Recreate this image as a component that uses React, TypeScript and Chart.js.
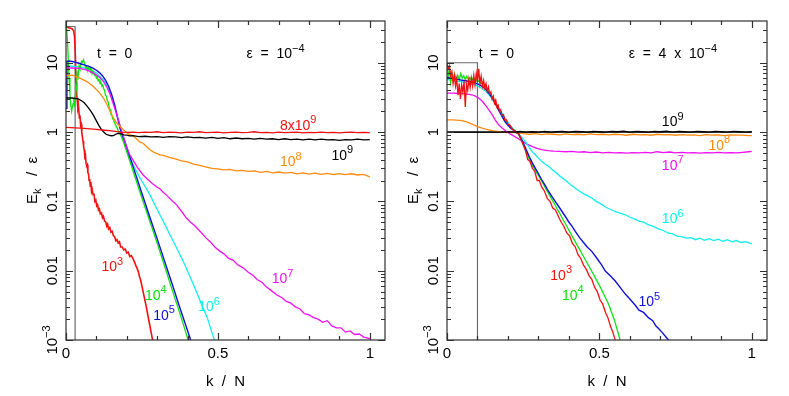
import React, { useEffect, useRef } from "react";
import { Chart, registerables } from "chart.js";

Chart.register(...registerables);

type P = [number, number];

// ---------- axes ----------
const X_MIN = 0;
const X_MAX = 1.05;
const Y_MIN = 0.001;
const Y_MAX = 40;
const X_TICKS = [0, 0.1, 0.2, 0.3, 0.4, 0.5, 0.6, 0.7, 0.8, 0.9, 1.0];
const X_MAJOR = [0, 0.5, 1];
const X_TICK_LABELS = ["0", "0.5", "1"];
const Y_MAJOR = [0.001, 0.01, 0.1, 1, 10];
const Y_TICK_LABELS: [string, string][] = [["10", "\u22123"], ["0.01", ""], ["0.1", ""], ["1", ""], ["10", ""]];
const Y_MINOR = [
  0.002, 0.003, 0.004, 0.005, 0.006, 0.007, 0.008, 0.009,
  0.02, 0.03, 0.04, 0.05, 0.06, 0.07, 0.08, 0.09,
  0.2, 0.3, 0.4, 0.5, 0.6, 0.7, 0.8, 0.9,
  2, 3, 4, 5, 6, 7, 8, 9, 20, 30,
];

// ---------- left panel: eps = 1e-4 ----------
const L_box: P[] = [[0, 33.3], [0.03, 33.3], [0.03, 0.0001]];
const L_t1e3: P[] = [[0,32.5],[0.01,32],[0.02,31],[0.025,29],[0.028,24],[0.031,12],[0.033,5.2],[0.035,3.6],[0.037,2.9],[0.039,2.2],[0.041,2.4],[0.044,1.6],[0.046,1.75],[0.048,1.25],[0.05,1.3],[0.052,0.98],[0.054,0.85],[0.056,0.74],[0.058,0.62],[0.06,0.55],[0.062,0.44],[0.064,0.46],[0.066,0.35],[0.068,0.33],[0.07,0.34],[0.072,0.26],[0.074,0.25],[0.076,0.2],[0.078,0.21],[0.08,0.165],[0.082,0.19],[0.084,0.14],[0.086,0.15],[0.089,0.125],[0.092,0.13],[0.095,0.1],[0.098,0.105],[0.101,0.086],[0.104,0.09],[0.107,0.075],[0.11,0.078],[0.113,0.066],[0.117,0.068],[0.12,0.058],[0.123,0.061],[0.127,0.052],[0.131,0.05],[0.134,0.044],[0.137,0.047],[0.14,0.04],[0.144,0.042],[0.148,0.036],[0.152,0.037],[0.156,0.032],[0.16,0.031],[0.164,0.027],[0.168,0.028],[0.172,0.025],[0.176,0.026],[0.18,0.022],[0.185,0.022],[0.19,0.02],[0.195,0.0205],[0.2,0.018],[0.205,0.0185],[0.21,0.016],[0.215,0.0165],[0.22,0.015],[0.225,0.0135],[0.23,0.0118],[0.234,0.0108],[0.238,0.0097],[0.242,0.0082],[0.246,0.0072],[0.25,0.006],[0.255,0.0047],[0.26,0.0037],[0.265,0.0029],[0.27,0.0022],[0.275,0.0017],[0.28,0.0013],[0.285,0.001],[0.29,0.0008]];
const L_t1e4: P[] = [[0,33],[0.002,30],[0.0044,23],[0.0066,14],[0.01,6],[0.013,3.5],[0.0154,2.5],[0.0186,2.0],[0.021,2.3],[0.024,2.6],[0.026,3.1],[0.028,2.3],[0.03,3.4],[0.032,4.6],[0.035,4.2],[0.037,7.2],[0.04,6.3],[0.043,9.0],[0.046,8.2],[0.049,9.8],[0.052,10.6],[0.055,10.2],[0.058,11.0],[0.061,9.6],[0.064,8.6],[0.067,8.9],[0.07,7.7],[0.073,8.7],[0.076,8.0],[0.079,8.4],[0.082,7.5],[0.085,7.8],[0.088,7.0],[0.091,7.4],[0.094,6.6],[0.097,6.8],[0.1,6.0],[0.103,6.3],[0.106,5.5],[0.109,5.7],[0.112,5.0],[0.115,5.2],[0.118,4.6],[0.121,4.8],[0.124,4.2],[0.127,4.0],[0.13,3.4],[0.133,3.3],[0.136,2.8],[0.139,2.7],[0.142,2.3],[0.145,2.1],[0.148,1.8],[0.151,1.75],[0.154,1.55],[0.157,1.5],[0.16,1.35],[0.164,1.25],[0.168,1.15],[0.172,1.05],[0.178,0.95],[0.19,0.7],[0.2,0.52],[0.225,0.24],[0.25,0.112],[0.275,0.053],[0.3,0.025],[0.325,0.0115],[0.35,0.0052],[0.375,0.0024],[0.4,0.00107],[0.41,0.0008]];
const L_t1e5: P[] = [[0,2.2],[0.003,10.5],[0.01,10.6],[0.02,10.4],[0.03,10.2],[0.04,9.9],[0.05,9.6],[0.06,9.3],[0.07,9.0],[0.08,8.7],[0.09,8.3],[0.1,7.8],[0.11,7.2],[0.12,6.5],[0.13,5.6],[0.14,4.6],[0.15,3.5],[0.16,2.5],[0.17,1.6],[0.18,1.05],[0.19,0.81],[0.2,0.6],[0.225,0.28],[0.25,0.13],[0.275,0.061],[0.3,0.029],[0.325,0.0135],[0.35,0.0063],[0.375,0.0029],[0.4,0.00137],[0.41,0.00101],[0.42,0.00075]];
const L_t1e6: P[] = [[0,8.9],[0.02,8.9],[0.04,8.7],[0.06,8.4],[0.08,7.9],[0.09,7.5],[0.1,7.1],[0.11,6.5],[0.12,5.9],[0.13,5.1],[0.14,4.2],[0.15,3.2],[0.16,2.3],[0.17,1.6],[0.178,1.14],[0.189,0.75],[0.2,0.56],[0.21,0.43],[0.225,0.31],[0.243,0.22],[0.26,0.165],[0.276,0.125],[0.292,0.09],[0.309,0.064],[0.325,0.047],[0.342,0.033],[0.358,0.024],[0.375,0.017],[0.39,0.0125],[0.405,0.0088],[0.42,0.0062],[0.435,0.0043],[0.45,0.003],[0.465,0.0021],[0.48,0.0013],[0.49,0.00095],[0.5,0.0007]];
const L_t1e7: P[] = [[0,8.4],[0.02,8.4],[0.046,8.3],[0.07,7.8],[0.09,7.1],[0.11,6.2],[0.123,5.4],[0.135,4.4],[0.145,3.5],[0.155,2.6],[0.167,1.8],[0.175,1.38],[0.183,1.05],[0.192,0.78],[0.2,0.6],[0.21,0.47],[0.221,0.39],[0.235,0.31],[0.254,0.24],[0.27,0.205],[0.285,0.18],[0.3,0.16],[0.309,0.152],[0.32,0.135],[0.335,0.118],[0.35,0.101],[0.364,0.089],[0.38,0.072],[0.397,0.057],[0.41,0.05],[0.425,0.044],[0.441,0.037],[0.46,0.03],[0.475,0.026],[0.49,0.022],[0.507,0.019],[0.52,0.0175],[0.535,0.015],[0.55,0.0142],[0.565,0.0122],[0.583,0.011],[0.6,0.0095],[0.615,0.0086],[0.63,0.0074],[0.645,0.0068],[0.66,0.0058],[0.675,0.0052],[0.693,0.0045],[0.71,0.0041],[0.725,0.0036],[0.74,0.0034],[0.755,0.003],[0.77,0.0028],[0.785,0.0024],[0.8,0.0023],[0.815,0.0021],[0.83,0.002],[0.845,0.0018],[0.86,0.0019],[0.875,0.0016],[0.89,0.0015],[0.905,0.0015],[0.92,0.0013],[0.935,0.00135],[0.95,0.0012],[0.965,0.00122],[0.98,0.0011],[1.0,0.00105]];
const L_t1e8: P[] = [[0,6.5],[0.02,6.6],[0.046,6.0],[0.07,5.3],[0.09,4.55],[0.11,3.7],[0.123,3.1],[0.135,2.5],[0.145,2.0],[0.156,1.6],[0.167,1.35],[0.178,1.2],[0.189,1.08],[0.2,0.98],[0.21,0.92],[0.221,0.88],[0.232,0.8],[0.243,0.72],[0.254,0.69],[0.265,0.62],[0.276,0.556],[0.29,0.51],[0.309,0.47],[0.32,0.46],[0.34,0.43],[0.36,0.41],[0.38,0.385],[0.4,0.37],[0.42,0.345],[0.44,0.33],[0.46,0.315],[0.48,0.3],[0.5,0.295],[0.52,0.285],[0.54,0.29],[0.56,0.275],[0.58,0.28],[0.6,0.27],[0.62,0.275],[0.64,0.262],[0.66,0.27],[0.68,0.258],[0.7,0.265],[0.72,0.255],[0.74,0.262],[0.76,0.25],[0.78,0.258],[0.8,0.248],[0.82,0.256],[0.84,0.246],[0.86,0.254],[0.88,0.244],[0.9,0.252],[0.92,0.243],[0.94,0.25],[0.96,0.24],[0.98,0.245],[1.0,0.225]];
const L_t1e9: P[] = [[0,3.1],[0.02,3.1],[0.04,3.0],[0.05,2.85],[0.06,2.65],[0.07,2.35],[0.08,2.05],[0.09,1.75],[0.1,1.45],[0.108,1.25],[0.116,1.1],[0.124,1.0],[0.132,0.93],[0.14,0.9],[0.148,0.885],[0.156,0.89],[0.164,0.93],[0.172,0.96],[0.18,0.94],[0.19,0.91],[0.2,0.9],[0.21,0.88],[0.22,0.89],[0.24,0.86],[0.26,0.87],[0.28,0.85],[0.3,0.86],[0.32,0.84],[0.34,0.86],[0.36,0.85],[0.38,0.83],[0.4,0.85],[0.42,0.83],[0.44,0.84],[0.46,0.82],[0.48,0.84],[0.5,0.81],[0.52,0.83],[0.54,0.8],[0.56,0.82],[0.58,0.8],[0.6,0.81],[0.62,0.79],[0.64,0.81],[0.66,0.79],[0.68,0.8],[0.7,0.78],[0.72,0.8],[0.74,0.78],[0.76,0.79],[0.78,0.77],[0.8,0.79],[0.82,0.77],[0.84,0.79],[0.86,0.77],[0.88,0.78],[0.9,0.76],[0.92,0.78],[0.94,0.77],[0.96,0.79],[0.98,0.77],[1.0,0.78]];
const L_t8e9: P[] = [[0,1.17],[0.03,1.15],[0.06,1.13],[0.09,1.1],[0.12,1.07],[0.15,1.04],[0.18,1.0],[0.2,0.99],[0.22,1.0],[0.24,0.98],[0.26,1.0],[0.28,0.99],[0.3,1.01],[0.32,0.98],[0.34,1.0],[0.36,0.99],[0.38,0.97],[0.4,1.0],[0.42,0.99],[0.44,1.01],[0.46,0.98],[0.48,0.99],[0.5,1.0],[0.52,0.97],[0.54,0.99],[0.56,1.0],[0.58,0.98],[0.6,0.99],[0.62,1.01],[0.64,0.98],[0.66,0.99],[0.68,0.97],[0.7,1.0],[0.72,0.98],[0.74,0.99],[0.76,1.0],[0.78,0.97],[0.8,0.99],[0.82,0.98],[0.84,1.0],[0.86,0.98],[0.88,0.99],[0.9,0.97],[0.92,0.99],[0.94,1.0],[0.96,0.98],[0.98,0.99],[1.0,0.98]];

// ---------- right panel: eps = 4e-4 ----------
const R_box: P[] = [[0, 10], [0.1, 10], [0.1, 0.0001]];
const R_unity: P[] = [[0, 1], [1, 1]];
const R_t1e3: P[] = [[0,10],[0.004,8.2],[0.008,9.0],[0.012,6.5],[0.016,7.4],[0.02,5.0],[0.024,6.6],[0.028,4.6],[0.032,5.8],[0.036,3.4],[0.04,5.0],[0.044,3.0],[0.048,4.8],[0.052,3.8],[0.056,5.4],[0.06,2.3],[0.064,4.9],[0.068,4.0],[0.072,5.8],[0.076,4.4],[0.08,6.0],[0.084,4.6],[0.088,6.6],[0.092,4.8],[0.096,7.0],[0.1,5.4],[0.104,8.2],[0.108,5.0],[0.112,6.4],[0.116,4.6],[0.12,5.6],[0.124,4.4],[0.128,5.0],[0.132,3.9],[0.136,4.5],[0.14,3.5],[0.144,3.8],[0.148,3.0],[0.152,3.3],[0.156,2.6],[0.16,2.9],[0.164,2.3],[0.168,2.45],[0.172,2.0],[0.176,2.1],[0.18,1.75],[0.185,1.8],[0.19,1.5],[0.195,1.5],[0.2,1.3],[0.207,1.25],[0.214,1.1],[0.221,1.05],[0.228,0.98],[0.235,0.95],[0.242,0.8],[0.25,0.66],[0.257,0.55],[0.265,0.4],[0.272,0.38],[0.28,0.3],[0.288,0.27],[0.296,0.2],[0.303,0.2],[0.311,0.16],[0.32,0.14],[0.329,0.11],[0.338,0.1],[0.347,0.08],[0.356,0.075],[0.366,0.06],[0.375,0.05],[0.384,0.043],[0.393,0.035],[0.402,0.032],[0.411,0.025],[0.421,0.022],[0.43,0.017],[0.439,0.015],[0.448,0.012],[0.457,0.0105],[0.466,0.0085],[0.475,0.0075],[0.484,0.0058],[0.493,0.005],[0.502,0.0038],[0.511,0.0033],[0.52,0.0025],[0.528,0.0021],[0.536,0.0016],[0.544,0.0013],[0.552,0.001],[0.56,0.0008]];
const R_t1e4: P[] = [[0,10],[0.004,6.5],[0.008,7.6],[0.012,5.2],[0.016,7.0],[0.02,5.6],[0.025,6.9],[0.03,5.8],[0.035,6.6],[0.04,5.6],[0.045,7.0],[0.05,6.0],[0.055,6.5],[0.06,5.7],[0.065,6.4],[0.07,5.7],[0.075,6.1],[0.08,5.5],[0.085,6.0],[0.09,5.4],[0.095,5.7],[0.1,5.3],[0.105,5.5],[0.11,5.0],[0.115,5.1],[0.12,4.6],[0.125,4.6],[0.13,4.1],[0.135,4.0],[0.14,3.6],[0.145,3.4],[0.15,3.0],[0.155,2.9],[0.16,2.5],[0.165,2.4],[0.17,2.1],[0.175,2.0],[0.18,1.75],[0.185,1.65],[0.19,1.48],[0.195,1.4],[0.2,1.3],[0.21,1.17],[0.22,1.07],[0.235,0.95],[0.257,0.55],[0.28,0.33],[0.311,0.195],[0.34,0.115],[0.366,0.072],[0.395,0.042],[0.421,0.026],[0.448,0.016],[0.475,0.0098],[0.503,0.0058],[0.53,0.0033],[0.55,0.0019],[0.568,0.001],[0.575,0.0008]];
const R_t1e5: P[] = [[0,6.2],[0.01,6.0],[0.02,5.9],[0.03,5.8],[0.04,5.7],[0.05,5.6],[0.06,5.5],[0.07,5.4],[0.08,5.3],[0.09,5.15],[0.1,4.95],[0.11,4.7],[0.12,4.4],[0.13,4.0],[0.14,3.5],[0.15,3.0],[0.16,2.5],[0.17,2.05],[0.18,1.7],[0.19,1.42],[0.2,1.25],[0.21,1.13],[0.224,1.02],[0.235,0.93],[0.245,0.78],[0.257,0.6],[0.27,0.44],[0.28,0.36],[0.29,0.3],[0.3,0.25],[0.311,0.205],[0.322,0.17],[0.333,0.14],[0.344,0.118],[0.355,0.1],[0.366,0.085],[0.377,0.072],[0.39,0.059],[0.4,0.05],[0.41,0.044],[0.421,0.037],[0.435,0.03],[0.448,0.0255],[0.46,0.022],[0.475,0.019],[0.49,0.0155],[0.505,0.0125],[0.52,0.0098],[0.535,0.0085],[0.552,0.0071],[0.57,0.0056],[0.585,0.0046],[0.6,0.0039],[0.617,0.0032],[0.63,0.0027],[0.645,0.0025],[0.661,0.0021],[0.675,0.0019],[0.685,0.0016],[0.695,0.00145],[0.705,0.0013],[0.715,0.00115],[0.727,0.001],[0.735,0.0009]];
const R_t1e6: P[] = [[0,5.7],[0.02,5.6],[0.049,5.3],[0.07,5.1],[0.093,4.8],[0.11,4.4],[0.126,3.9],[0.142,3.3],[0.158,2.6],[0.175,2.05],[0.191,1.58],[0.205,1.28],[0.219,1.08],[0.235,0.95],[0.246,0.83],[0.257,0.73],[0.27,0.6],[0.28,0.52],[0.29,0.47],[0.3,0.42],[0.311,0.375],[0.322,0.345],[0.333,0.32],[0.344,0.29],[0.355,0.265],[0.366,0.24],[0.377,0.22],[0.39,0.2],[0.405,0.175],[0.421,0.155],[0.435,0.14],[0.45,0.127],[0.462,0.12],[0.475,0.112],[0.49,0.1],[0.505,0.092],[0.52,0.083],[0.535,0.077],[0.55,0.072],[0.565,0.068],[0.585,0.064],[0.6,0.059],[0.615,0.056],[0.63,0.052],[0.645,0.05],[0.66,0.046],[0.675,0.044],[0.694,0.04],[0.71,0.038],[0.725,0.035],[0.74,0.034],[0.755,0.0315],[0.77,0.031],[0.785,0.0295],[0.8,0.03],[0.815,0.028],[0.83,0.0295],[0.845,0.0275],[0.86,0.029],[0.875,0.0272],[0.89,0.0285],[0.905,0.0265],[0.92,0.028],[0.935,0.026],[0.95,0.0272],[0.965,0.0255],[0.98,0.0262],[1.0,0.0243]];
const R_t1e7: P[] = [[0,3.65],[0.02,3.65],[0.04,3.6],[0.06,3.55],[0.082,3.45],[0.093,3.3],[0.104,3.1],[0.115,2.8],[0.126,2.45],[0.137,2.1],[0.148,1.78],[0.158,1.5],[0.169,1.28],[0.18,1.15],[0.191,1.05],[0.202,0.97],[0.213,0.91],[0.23,0.82],[0.246,0.74],[0.262,0.67],[0.279,0.62],[0.295,0.58],[0.311,0.556],[0.33,0.54],[0.35,0.53],[0.37,0.525],[0.39,0.52],[0.41,0.525],[0.43,0.515],[0.45,0.52],[0.47,0.505],[0.49,0.515],[0.51,0.5],[0.53,0.51],[0.55,0.5],[0.57,0.505],[0.59,0.495],[0.61,0.505],[0.63,0.5],[0.65,0.51],[0.67,0.5],[0.69,0.52],[0.71,0.505],[0.73,0.515],[0.75,0.5],[0.77,0.51],[0.79,0.5],[0.81,0.505],[0.83,0.495],[0.85,0.505],[0.87,0.5],[0.89,0.51],[0.91,0.5],[0.93,0.505],[0.95,0.5],[0.97,0.51],[0.99,0.52],[1.0,0.525]];
const R_t1e8: P[] = [[0,1.5],[0.02,1.5],[0.049,1.46],[0.065,1.4],[0.082,1.3],[0.1,1.2],[0.115,1.14],[0.13,1.09],[0.148,1.045],[0.165,1.02],[0.18,1.0],[0.2,0.99],[0.22,0.98],[0.235,0.97],[0.25,0.95],[0.27,0.93],[0.29,0.95],[0.31,0.92],[0.33,0.94],[0.35,0.93],[0.37,0.91],[0.39,0.94],[0.41,0.92],[0.43,0.93],[0.45,0.91],[0.47,0.94],[0.49,0.92],[0.51,0.93],[0.53,0.91],[0.55,0.93],[0.57,0.92],[0.59,0.9],[0.61,0.93],[0.63,0.91],[0.65,0.92],[0.67,0.9],[0.69,0.93],[0.71,0.91],[0.73,0.92],[0.75,0.9],[0.77,0.92],[0.79,0.9],[0.81,0.91],[0.83,0.89],[0.85,0.92],[0.87,0.9],[0.89,0.91],[0.91,0.89],[0.93,0.91],[0.95,0.9],[0.97,0.9],[0.99,0.89],[1.0,0.89]];
const R_t1e9: P[] = [[0,1.0],[0.05,1.0],[0.1,1.0],[0.15,1.0],[0.2,1.01],[0.22,1.0],[0.24,1.02],[0.26,1.0],[0.28,1.01],[0.3,1.0],[0.32,1.02],[0.34,1.0],[0.36,1.01],[0.38,1.02],[0.4,1.0],[0.42,1.02],[0.44,1.01],[0.46,1.0],[0.48,1.02],[0.5,1.01],[0.52,1.0],[0.54,1.02],[0.56,1.01],[0.58,1.03],[0.6,1.0],[0.62,1.02],[0.64,1.01],[0.66,1.0],[0.68,1.02],[0.7,1.01],[0.72,1.03],[0.74,1.0],[0.76,1.02],[0.78,1.01],[0.8,1.0],[0.82,1.02],[0.84,1.01],[0.86,1.0],[0.88,1.02],[0.9,1.01],[0.92,1.0],[0.94,1.02],[0.96,1.01],[0.98,1.0],[1.0,1.01]];

// ---------- colours ----------
const RED = "#f21010";
const GREEN = "#10e010";
const BLUE = "#1010d8";
const CYAN = "#10eeee";
const MAGENTA = "#f010f0";
const ORANGE = "#ff8a10";
const BLACK = "#000000";
const GRAY = "#6a6a6a";
const FRAME = "#303030";
const FONT = '"Liberation Sans", Arial, Helvetica, sans-serif';

interface Series { data: P[]; color: string; width: number; }
interface Note { x: number; y: number; base: string; sup: string; color: string; }
interface PanelCfg {
  series: Series[];
  notes: Note[];
  pad: { left: number; right: number; top: number; bottom: number };
}

const LEFT: PanelCfg = {
  series: [
    { data: L_t8e9, color: RED, width: 1.3 },
    { data: L_t1e9, color: BLACK, width: 1.3 },
    { data: L_t1e8, color: ORANGE, width: 1.3 },
    { data: L_t1e7, color: MAGENTA, width: 1.3 },
    { data: L_t1e5, color: BLUE, width: 1.4 },
    { data: L_t1e4, color: GREEN, width: 1.3 },
    { data: L_t1e6, color: CYAN, width: 1.3 },
    { data: L_t1e3, color: RED, width: 1.6 },
    { data: L_box, color: GRAY, width: 1.2 },
  ],
  notes: [
    { x: 0.102, y: 11.7, base: "t  =  0", sup: "", color: BLACK },
    { x: 0.594, y: 11.7, base: "\u03b5  =  10", sup: "\u22124", color: BLACK },
    { x: 0.704, y: 1.08, base: "8x10", sup: "9", color: RED },
    { x: 0.874, y: 0.4, base: "10", sup: "9", color: BLACK },
    { x: 0.704, y: 0.32, base: "10", sup: "8", color: ORANGE },
    { x: 0.677, y: 0.00665, base: "10", sup: "7", color: MAGENTA },
    { x: 0.435, y: 0.0026, base: "10", sup: "6", color: CYAN },
    { x: 0.287, y: 0.00196, base: "10", sup: "5", color: BLUE },
    { x: 0.26, y: 0.00382, base: "10", sup: "4", color: GREEN },
    { x: 0.117, y: 0.0098, base: "10", sup: "3", color: RED },
  ],
  pad: { left: 66, right: 10, top: 21, bottom: 56 },
};

const RIGHT: PanelCfg = {
  series: [
    { data: R_unity, color: BLACK, width: 1.3 },
    { data: R_t1e3, color: RED, width: 1.3 },
    { data: R_t1e5, color: BLUE, width: 1.4 },
    { data: R_t1e4, color: GREEN, width: 1.3 },
    { data: R_t1e6, color: CYAN, width: 1.3 },
    { data: R_t1e7, color: MAGENTA, width: 1.3 },
    { data: R_t1e8, color: ORANGE, width: 1.3 },
    { data: R_t1e9, color: BLACK, width: 1.3 },
    { data: R_box, color: GRAY, width: 1.2 },
  ],
  notes: [
    { x: 0.104, y: 11.7, base: "t  =  0", sup: "", color: BLACK },
    { x: 0.596, y: 11.7, base: "\u03b5  =  4  x  10", sup: "\u22124", color: BLACK },
    { x: 0.705, y: 1.21, base: "10", sup: "9", color: BLACK },
    { x: 0.858, y: 0.557, base: "10", sup: "8", color: ORANGE },
    { x: 0.705, y: 0.286, base: "10", sup: "7", color: MAGENTA },
    { x: 0.705, y: 0.0488, base: "10", sup: "6", color: CYAN },
    { x: 0.628, y: 0.00306, base: "10", sup: "5", color: BLUE },
    { x: 0.339, y: 0.0074, base: "10", sup: "3", color: RED },
    { x: 0.377, y: 0.00382, base: "10", sup: "4", color: GREEN },
  ],
  pad: { left: 52, right: 22, top: 21, bottom: 56 },
};

type Seg = { t: string; k?: "sup" | "sub" };

function drawRich(ctx: CanvasRenderingContext2D, x: number, y: number, segs: Seg[], size: number, color: string, align: "left" | "center") {
  const widths: number[] = [];
  let total = 0;
  for (const s of segs) {
    ctx.font = `${s.k ? Math.round(size * 0.76) : size}px ${FONT}`;
    const w = ctx.measureText(s.t).width;
    widths.push(w);
    total += w;
  }
  let cx = align === "center" ? x - total / 2 : x;
  ctx.fillStyle = color;
  ctx.textAlign = "left";
  ctx.textBaseline = "alphabetic";
  segs.forEach((s, i) => {
    ctx.font = `${s.k ? Math.round(size * 0.76) : size}px ${FONT}`;
    const dy = s.k === "sup" ? -size * 0.45 : s.k === "sub" ? size * 0.28 : 0;
    ctx.fillText(s.t, cx, y + dy);
    cx += widths[i];
  });
}

function makeFramePlugin(cfg: PanelCfg) {
  return {
    id: "frame",
    afterDraw(chart: any) {
      const ctx: CanvasRenderingContext2D = chart.ctx;
      const { left, right, top, bottom } = chart.chartArea;
      const xs = chart.scales.x;
      const ys = chart.scales.y;
      ctx.save();
      ctx.strokeStyle = FRAME;
      ctx.lineWidth = 1.2;
      ctx.strokeRect(left, top, right - left, bottom - top);
      ctx.beginPath();
      for (const v of X_TICKS) {
        const px = Math.round(xs.getPixelForValue(v)) + 0.5;
        const len = X_MAJOR.some((m) => Math.abs(m - v) < 1e-9) ? 7 : 4;
        ctx.moveTo(px, bottom);
        ctx.lineTo(px, bottom - len);
        ctx.moveTo(px, top);
        ctx.lineTo(px, top + len);
      }
      for (const v of Y_MAJOR) {
        const py = Math.round(ys.getPixelForValue(v)) + 0.5;
        ctx.moveTo(left, py);
        ctx.lineTo(left + 7, py);
        ctx.moveTo(right, py);
        ctx.lineTo(right - 7, py);
      }
      for (const v of Y_MINOR) {
        const py = Math.round(ys.getPixelForValue(v)) + 0.5;
        ctx.moveTo(left, py);
        ctx.lineTo(left + 4, py);
        ctx.moveTo(right, py);
        ctx.lineTo(right - 4, py);
      }
      ctx.stroke();

      // x tick labels
      X_MAJOR.forEach((v, i) => {
        drawRich(ctx, xs.getPixelForValue(v), bottom + 18, [{ t: X_TICK_LABELS[i] }], 15, BLACK, "center");
      });
      // y tick labels (rotated)
      Y_MAJOR.forEach((v, i) => {
        const [b, s] = Y_TICK_LABELS[i];
        ctx.save();
        ctx.translate(left - 9, ys.getPixelForValue(v));
        ctx.rotate(-Math.PI / 2);
        const segs: Seg[] = [{ t: b }];
        if (s) segs.push({ t: s, k: "sup" });
        drawRich(ctx, 0, 0, segs, 15, BLACK, "center");
        ctx.restore();
      });
      // axis titles
      drawRich(ctx, (left + right) / 2, bottom + 46, [{ t: "k  /  N" }], 15, BLACK, "center");
      ctx.save();
      ctx.translate(left - 29, (top + bottom) / 2);
      ctx.rotate(-Math.PI / 2);
      drawRich(ctx, 0, 0, [{ t: "E" }, { t: "k", k: "sub" }, { t: "   /  \u03b5" }], 15, BLACK, "center");
      ctx.restore();

      // annotations
      for (const n of cfg.notes) {
        const segs: Seg[] = [{ t: n.base }];
        if (n.sup) segs.push({ t: n.sup, k: "sup" });
        drawRich(ctx, xs.getPixelForValue(n.x), ys.getPixelForValue(n.y), segs, 14, n.color, "left");
      }
      ctx.restore();
    },
  };
}

function Panel({ cfg, x, width }: { cfg: PanelCfg; x: number; width: number }) {
  const ref = useRef<HTMLCanvasElement | null>(null);
  useEffect(() => {
    if (!ref.current) return;
    const chart = new Chart(ref.current, {
      type: "scatter",
      data: {
        datasets: cfg.series.map((s) => ({
          data: s.data.map(([k, e]) => ({ x: k, y: e })),
          borderColor: s.color,
          backgroundColor: s.color,
          borderWidth: s.width,
          showLine: true,
          pointRadius: 0,
          fill: false,
          tension: 0,
        })),
      },
      options: {
        animation: false,
        responsive: false,
        devicePixelRatio: 1,
        events: [],
        layout: { padding: cfg.pad },
        plugins: { legend: { display: false }, tooltip: { enabled: false } },
        scales: {
          x: { type: "linear", min: X_MIN, max: X_MAX, display: false },
          y: { type: "logarithmic", min: Y_MIN, max: Y_MAX, display: false },
        },
      } as any,
      plugins: [makeFramePlugin(cfg)],
    });
    return () => chart.destroy();
  }, [cfg]);
  return (
    <canvas
      ref={ref}
      width={width}
      height={396}
      style={{ position: "absolute", left: x, top: 0, width, height: 396 }}
    />
  );
}

export default function App() {
  return (
    <div style={{ position: "absolute", left: 0, top: 0, width: 789, height: 396, background: "#ffffff", overflow: "hidden" }}>
      <Panel cfg={LEFT} x={0} width={395} />
      <Panel cfg={RIGHT} x={395} width={394} />
    </div>
  );
}
